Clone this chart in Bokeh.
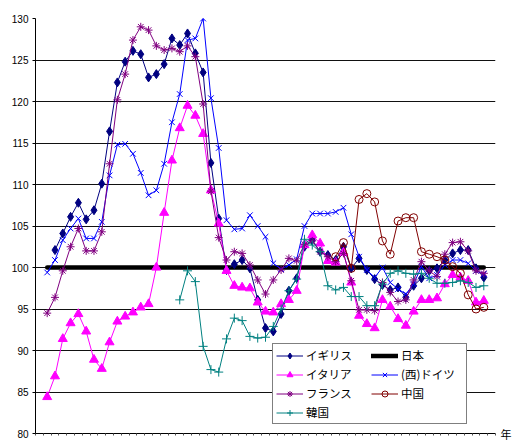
from bokeh.plotting import figure
from bokeh.models import Range1d, FixedTicker, Legend, LegendItem, LinearAxis
from bokeh.embed import file_html
from bokeh.resources import INLINE

nan = float("nan")

# Period positions along the category axis (one point per year)
periods = list(range(1, 58))

uk = [nan, 102.1, 104.1, 106.1, 107.8, 105.8, 106.9, 110.1, 116.4, 122.3,
      124.8, 126.1, 125.7, 122.9, 123.3, 124.5, 127.6, 126.8, 128.2, 125.8,
      123.5, 112.6, 105.9, 99.7, 100.4, 100.9, 99.9, 96.1, 92.7, 92.3,
      94.4, 97.2, 98.7, 102.5, 103.3, 101.9, 101.5, 100.9, 102.5, 99.9,
      101.1, 99.7, 98.6, 97.9, 97.3, 97.6, 96.4, 97.8, 98.7, 99.6,
      99.9, 100.9, 101.7, 102.1, 102.1, 99.9, 98.8]

japan = [100.0] * 57

italy = [84.4, 86.9, 91.4, 93.3, 94.4, 92.3, 88.9, 87.8, 91.0, 93.5,
         94.1, 94.6, 95.2, 95.6, 100.0, 106.6, 112.9, 116.8, 119.5, 118.3,
         116.1, 109.3, 105.3, 99.6, 97.8, 97.6, 97.5, 95.8, 94.7, 94.6,
         95.6, 96.1, 97.2, 102.7, 103.9, 102.9, 100.8, 100.6, 101.8, 98.2,
         94.2, 93.2, 92.7, 96.1, 95.3, 93.8, 93.0, 94.7, 96.1, 96.1,
         96.3, 98.0, 99.1, 98.8, 98.4, 95.8, 96.0]

germany = [99.4, 100.9, 103.3, 104.7, 105.9, 103.5, 103.5, 105.5, 111.1, 114.8,
           114.9, 113.7, 111.4, 108.7, 109.3, 112.5, 117.5, 120.9, 127.4, 127.6,
           130.0, 120.4, 114.4, 105.7, 104.6, 104.7, 106.3, 105.0, 103.7, 100.5,
           99.8, 100.3, 101.0, 105.0, 106.5, 106.5, 106.5, 106.7, 107.2, 104.0,
           101.3, 99.7, 98.8, 100.0, 98.2, 97.4, 96.8, 98.0, 100.1, 98.7,
           99.1, 100.3, 100.9, 100.9, 100.5, 99.6, 99.2]

france = [94.5, 96.4, 99.6, 102.5, 104.7, 102.0, 102.0, 104.3, 112.5, 120.2,
          123.3, 127.4, 129.0, 128.6, 126.7, 126.2, 126.4, 126.0, 126.7, 125.4,
          119.7, 109.2, 103.6, 100.9, 101.9, 101.7, 100.3, 98.5, 96.8, 98.5,
          99.7, 101.1, 100.8, 102.8, 103.2, 101.9, 101.3, 100.7, 101.7, 98.4,
          94.9, 94.9, 94.8, 98.2, 97.0, 95.9, 96.1, 98.5, 100.7, 99.6,
          98.9, 101.6, 103.0, 103.1, 102.0, 99.6, 99.3]

china = [nan] * 37 + [101.3, 103.0, 99.9, 108.2, 108.9, 107.9, 103.2, 101.6, 105.6, 106.0,
                      106.0, 101.9, 101.6, 101.3, 100.9, 100.1, 99.3, 96.7, 95.0, 95.2]

korea = [nan] * 17 + [96.1, 99.6, 98.3, 90.5, 87.7, 87.4, 91.4, 93.9, 93.6, 91.7,
                      91.5, 91.6, 92.9, 95.0, 97.2, 98.6, 103.4, 102.7, 101.9, 97.8,
                      97.3, 97.6, 96.5, 96.5, 95.4, 95.4, 98.0, 99.3, 99.6, 99.3,
                      99.2, 99.3, 98.7, 98.1, 98.1, 98.2, 98.4, 98.2, 97.6, 97.8]

y_ticks = [80, 85, 90, 95, 100, 105, 110, 115, 120, 125, 130]

num_font = "Liberation Sans"
jp_font = "Noto Sans CJK JP"

p = figure(width=514, height=441, output_backend="svg", toolbar_location=None,
           x_range=Range1d(-0.5, 58.5), y_range=Range1d(80, 130),
           min_border_left=35, min_border_right=0, min_border_top=18,
           min_border_bottom=8)
p.outline_line_color = None
p.background_fill_color = "white"

# value axis
p.yaxis.ticker = FixedTicker(ticks=y_ticks)
p.yaxis.axis_line_color = "black"
p.yaxis.major_tick_line_color = "black"
p.yaxis.major_tick_out = 3
p.yaxis.major_tick_in = 0
p.yaxis.minor_tick_line_color = None
p.yaxis.major_label_standoff = 4
p.yaxis.major_label_text_font = num_font
p.yaxis.major_label_text_font_size = "10px"
p.yaxis.major_label_text_color = "black"

# category axis: small ticks at the year boundaries, no labels
p.xaxis.ticker = FixedTicker(ticks=[], minor_ticks=[k - 0.5 for k in range(0, 60)])
p.xaxis.axis_line_color = "black"
p.xaxis.major_tick_line_color = None
p.xaxis.minor_tick_line_color = "#555555"
p.xaxis.minor_tick_out = 2
p.xaxis.minor_tick_in = 0
p.xaxis.major_label_standoff = 0

p.xgrid.grid_line_color = None
p.ygrid.grid_line_color = "#111111"
p.ygrid.grid_line_width = 1

# unit mark "年" at the right end of the category axis
unit_axis = LinearAxis(ticker=FixedTicker(ticks=[80], minor_ticks=[]),
                       major_label_overrides={80: "年"})
unit_axis.axis_line_color = None
unit_axis.major_tick_line_color = None
unit_axis.minor_tick_line_color = None
unit_axis.major_tick_out = 0
unit_axis.major_tick_in = 0
unit_axis.minor_tick_out = 0
unit_axis.minor_tick_in = 0
unit_axis.major_label_standoff = 5
unit_axis.major_label_text_font = jp_font
unit_axis.major_label_text_font_size = "11px"
unit_axis.major_label_text_color = "black"
p.add_layout(unit_axis, "right")

# Japan baseline (100)
r_jp = p.line(periods, japan, line_color="black", line_width=4.5, line_cap="round")

def series(vals, color, marker, size, fill=True, lw=1.0):
    rl = p.line(periods, vals, line_color=color, line_width=lw)
    rs = p.scatter(periods, vals, marker=marker, size=size, line_color=color,
                   fill_color=color if fill else None, line_width=1)
    return [rl, rs]

r_uk = series(uk, "#000080", "diamond", 9)
r_it = series(italy, "#FF00FF", "triangle", 9)
r_de = series(germany, "#0000FF", "x", 8)
r_fr = series(france, "#800080", "asterisk", 8)
r_cn = series(china, "#800000", "circle", 8, fill=False)
r_kr = series(korea, "#008080", "cross", 9)

legend = Legend(items=[
    LegendItem(label="イギリス", renderers=r_uk),
    LegendItem(label="日本", renderers=[r_jp]),
    LegendItem(label="イタリア", renderers=r_it),
    LegendItem(label="(西)ドイツ", renderers=r_de),
    LegendItem(label="フランス", renderers=r_fr),
    LegendItem(label="中国", renderers=r_cn),
    LegendItem(label="韓国", renderers=r_kr),
], location=(237, 9), orientation="horizontal", ncols=2)
legend.label_text_font = jp_font
legend.label_text_font_size = "11.5px"
legend.label_text_color = "black"
legend.glyph_width = 27
legend.glyph_height = 15
legend.label_height = 15
legend.label_width = 62
legend.label_standoff = 3
legend.spacing = 3
legend.padding = 3
legend.margin = 0
legend.border_line_color = "black"
legend.border_line_width = 1
legend.background_fill_color = "white"
legend.background_fill_alpha = 1.0
p.add_layout(legend, "center")

open("out.html", "w").write(file_html(p, INLINE))
